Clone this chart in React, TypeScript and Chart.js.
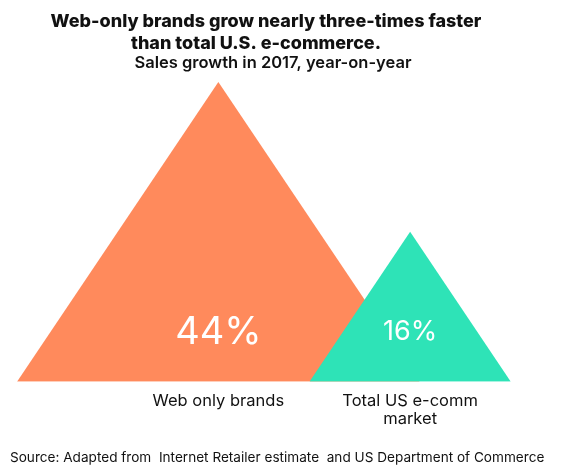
import { useEffect, useRef } from "react"
import { Chart, registerables } from "chart.js"

Chart.register(...registerables)

const categories: (string | string[])[] = ["Web only brands", ["Total US e-comm", "market"]]
const growth = [44, 16]
const colors = ["#FF8A5C", "#2EE3B7"]

const titleLines = ["Web-only brands grow nearly three-times faster", "than total U.S. e-commerce."]
const subtitle = "Sales growth in 2017, year-on-year"
const source = "Source: Adapted from  Internet Retailer estimate  and US Department of Commerce"

const FONT = "Inter, 'Noto Sans', sans-serif"
// triangles sit on this value and keep the same shape
const BASE = -12
const SLOPE = 0.01875
const valueFontSizes = [38, 27]

const triangle = (i: number, v: number) => {
  const half = (v - BASE) * SLOPE
  return [
    { x: i - half, y: BASE },
    { x: i, y: v },
    { x: i + half, y: BASE },
  ]
}

const textLayer = {
  id: "textLayer",
  afterDatasetsDraw(chart: any) {
    const { ctx } = chart
    const { x, y } = chart.scales
    ctx.save()
    ctx.fillStyle = "#ffffff"
    ctx.textAlign = "center"
    ctx.textBaseline = "alphabetic"
    growth.forEach((v, i) => {
      const size = valueFontSizes[i]
      ctx.font = `400 ${size}px ${FONT}`
      ctx.fillText(`${v}%`, x.getPixelForValue(i), y.getPixelForValue(BASE) - 51 + size * 0.36)
    })
    ctx.restore()
  },
  afterDraw(chart: any) {
    const { ctx } = chart
    ctx.save()
    ctx.fillStyle = "#111111"
    ctx.textBaseline = "alphabetic"
    ctx.textAlign = "center"
    ctx.font = `800 18px ${FONT}`
    ctx.fillText(titleLines[0], 266, 27)
    ctx.fillText(titleLines[1], 256, 49)
    ctx.font = `600 16.5px ${FONT}`
    ctx.fillText(subtitle, 273, 68)
    ctx.textAlign = "left"
    ctx.font = `400 13.6px ${FONT}`
    ctx.fillText(source, 10, 462)
    ctx.restore()
  },
}

export default function App() {
  const chartRef = useRef<HTMLCanvasElement>(null)
  const chartInstance = useRef<Chart | null>(null)

  useEffect(() => {
    if (!chartRef.current) return

    if (chartInstance.current) {
      chartInstance.current.destroy()
    }

    const ctx = chartRef.current.getContext("2d")
    if (!ctx) return

    chartInstance.current = new Chart(ctx, {
      type: "line",
      data: {
        datasets: growth.map((v, i) => ({
          label: typeof categories[i] === "string" ? (categories[i] as string) : (categories[i] as string[]).join(" "),
          data: triangle(i, v),
          backgroundColor: colors[i],
          borderColor: "transparent",
          borderWidth: 0,
          pointRadius: 0,
          tension: 0,
          fill: "start",
          order: growth.length - i,
        })),
      },
      options: {
        animation: false,
        responsive: true,
        maintainAspectRatio: false,
        layout: {
          padding: { left: 17, right: 54, top: 82, bottom: 35 },
        },
        scales: {
          x: {
            type: "linear",
            min: -1.05,
            max: 1.526,
            grid: { display: false, drawTicks: false },
            border: { display: false },
            afterBuildTicks: (scale: any) => {
              scale.ticks = categories.map((_, i) => ({ value: i }))
            },
            ticks: {
              padding: 10,
              color: "#111111",
              font: { family: FONT, size: 16.5, lineHeight: 1.1 },
              maxRotation: 0,
              callback: (value: any) => categories[Number(value)] ?? "",
            },
          },
          y: {
            display: false,
            min: BASE,
            max: Math.max(...growth),
          },
        },
        plugins: {
          legend: { display: false },
          tooltip: { enabled: false },
        },
      },
      plugins: [textLayer],
    })

    return () => {
      if (chartInstance.current) {
        chartInstance.current.destroy()
        chartInstance.current = null
      }
    }
  }, [])

  return (
    <div style={{ position: "fixed", left: 0, top: 0, width: 565, height: 473, background: "#fff" }}>
      <canvas ref={chartRef}></canvas>
    </div>
  )
}
